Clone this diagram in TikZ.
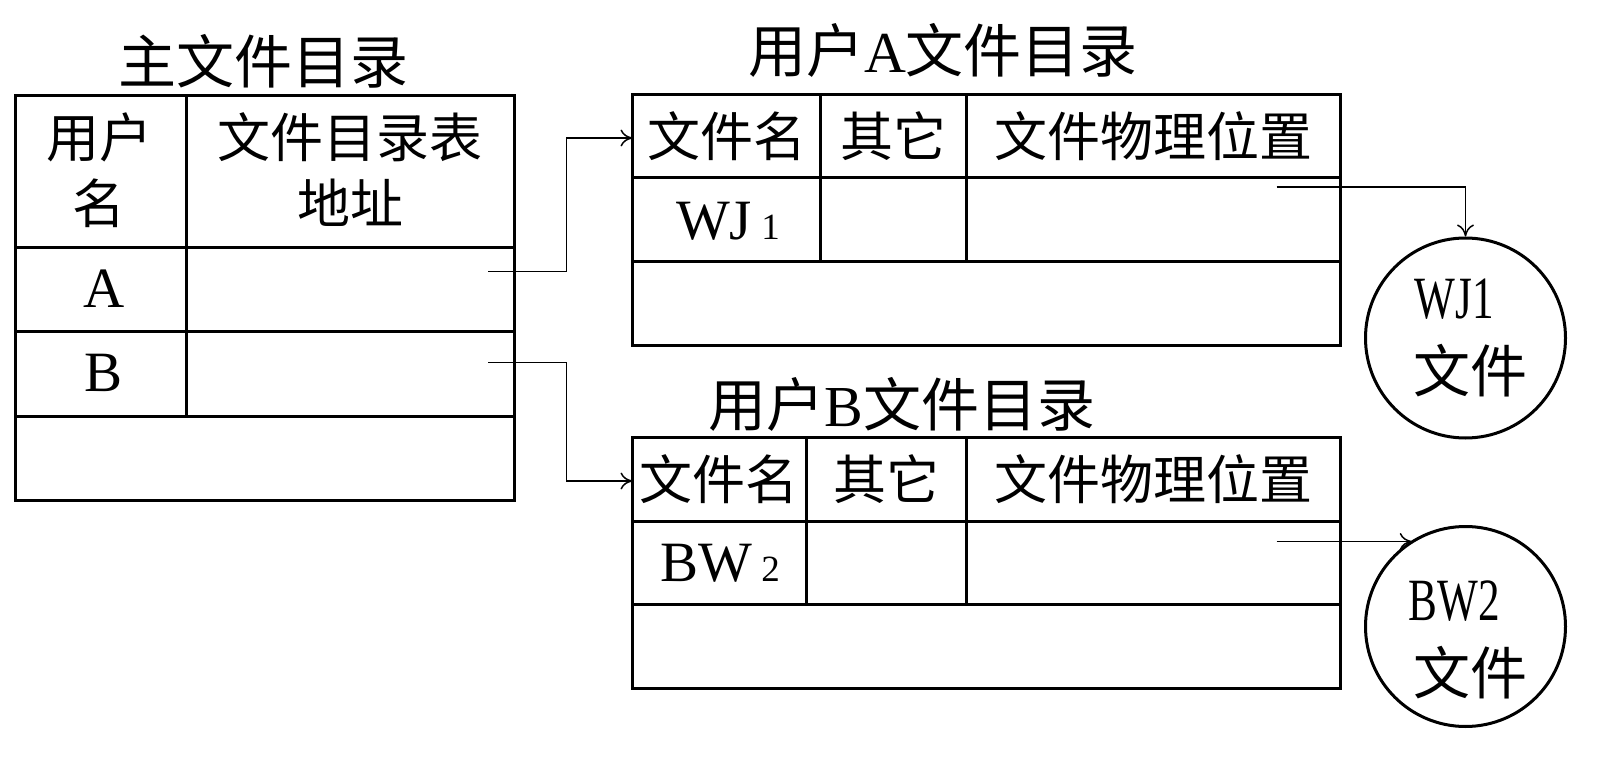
\documentclass[tikz,border=0pt]{standalone}
\usepackage{fontspec}
\usepackage{graphicx}
\setmainfont{Liberation Serif}
\newfontfamily\cjk{Noto Sans CJK SC}
\usetikzlibrary{arrows.meta}
\newcommand{\osn}[1]{{\fontsize{37}{40}\selectfont #1}}
\begin{document}
\begin{tikzpicture}[x=1pt,y=-1pt,
  tbl/.style={line width=3pt},
  conn/.style={line width=1.5pt,-{To[length=12pt,width=17pt]}},
  hdr/.style={inner sep=0pt,font=\cjk\fontsize{53}{60}\selectfont},
  ttl/.style={inner sep=0pt,font=\fontsize{58}{66}\selectfont},
  lat/.style={inner sep=0pt,anchor=base,font=\fontsize{57}{64}\selectfont},
  ctxt/.style={inner sep=0pt,anchor=base,font=\fontsize{60}{66}\selectfont},
  cjkc/.style={inner sep=0pt,font=\cjk\fontsize{57}{64}\selectfont},
  filec/.style={circle,draw,line width=3pt,minimum size=200pt,inner sep=0pt}]
\useasboundingbox[fill=white] (0,0) rectangle (1618,759);

% ---------- main directory ----------
\node[ttl] (mt) at (263,61) {\cjk 主文件目录};
\draw[tbl] (15,96) rectangle (514,500);
\draw[tbl] (15,248) -- (514,248) (15,332) -- (514,332) (15,416) -- (514,416)
           (186,96) -- (186,416);
\node[hdr] (u1) at (99,137.5) {用户};
\node[hdr] (u2) at (99,203) {名};
\node[hdr] (d1) at (350,137.5) {文件目录表};
\node[hdr] (d2) at (350,203) {地址};
\node[lat] (ra) at (104,308) {A};
\node[lat] (rb) at (104,391.7) {B};

% ---------- user A directory ----------
\node[ttl] (ta) at (943,50) {{\cjk 用户}A{\cjk 文件目录}};
\draw[tbl] (632.5,95) rectangle (1340.5,345.7);
\draw[tbl] (632.5,178) -- (1340.5,178) (632.5,262) -- (1340.5,262)
           (820.5,95) -- (820.5,262) (966.5,95) -- (966.5,262);
\node[hdr] (a1) at (726.5,136) {文件名};
\node[hdr] (a2) at (893.5,136) {其它};
\node[hdr] (a3) at (1153.5,136) {文件物理位置};
\node[lat] (awj) at (728,239.3) {WJ\,\osn{1}};

% ---------- user B directory ----------
\node[ttl] (tb) at (902,404) {{\cjk 用户}B{\cjk 文件目录}};
\draw[tbl] (632.5,437.5) rectangle (1340.5,688.3);
\draw[tbl] (632.5,521) -- (1340.5,521) (632.5,604.5) -- (1340.5,604.5)
           (806,437.5) -- (806,604.5) (966,437.5) -- (966,604.5);
\node[hdr] (b1) at (719,479) {文件名};
\node[hdr] (b2) at (886,479) {其它};
\node[hdr] (b3) at (1153,479) {文件物理位置};
\node[lat] (bbw) at (720,581.7) {BW\,\osn{2}};

% ---------- files ----------
\node[filec] (wj1) at (1465.5,338) {};
\node[ctxt] (wjt) at (1454,318.3) {\scalebox{0.72}[1]{WJ1}};
\node[cjkc] (wjf) at (1470,371) {文件};
\node[filec] (bw2) at (1465.5,626.5) {};
\node[ctxt] (bwt) at (1454.5,620) {\scalebox{0.72}[1]{BW2}};
\node[cjkc] (bwf) at (1470,672.5) {文件};

% ---------- connectors ----------
\coordinate (sA) at (488,271.5);
\coordinate (kA) at (566.5,271.5);
\coordinate (tA) at (632.5,138);
\draw[conn] (sA) -- (kA) |- (tA);
\coordinate (sB) at (488,362.5);
\coordinate (kB) at (566.5,362.5);
\coordinate (tB) at (632.5,481);
\draw[conn] (sB) -- (kB) |- (tB);
\coordinate (sW) at (1276.5,187);
\draw[conn] (sW) -| (wj1.north);
\coordinate (sX) at (1276.5,541.5);
\draw[conn] (sX) -- (sX -| bw2.122);
\end{tikzpicture}
\end{document}
